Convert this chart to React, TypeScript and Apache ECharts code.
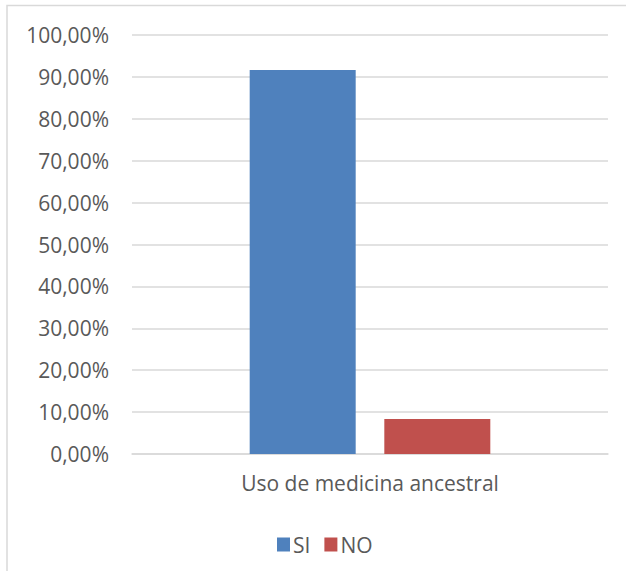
import React, { useEffect, useRef } from "react";
import * as echarts from "echarts";

const categories = ["Uso de medicina ancestral"];
const seriesNames = ["SI", "NO"];
const siValues = [91.65];
const noValues = [8.35];
const seriesColors = ["#4f81bd", "#c0504d"];

export default function App() {
  const ref = useRef<HTMLDivElement>(null);
  useEffect(() => {
    document.body.style.margin = "0";
    const chart = echarts.init(ref.current!, null, { renderer: "svg" });
    const font = "'Open Sans', 'Noto Sans', sans-serif";
    chart.setOption({
      animation: false,
      backgroundColor: "#ffffff",
      graphic: [
        {
          type: "rect",
          shape: { x: 7, y: 5.5, width: 700, height: 700 },
          style: { fill: "none", stroke: "#d9d9d9", lineWidth: 1.5 },
          silent: true,
        },
      ],
      grid: { left: 132, right: 18, top: 35, bottom: 117, containLabel: false },
      legend: {
        left: 272,
        top: 529,
        itemWidth: 13,
        itemHeight: 14,
        itemGap: 14,
        icon: "rect",
        data: seriesNames,
        textStyle: { fontFamily: font, fontSize: 21, color: "#595959", padding: [0, 0, 0, -2] },
      },
      xAxis: {
        type: "category",
        data: categories,
        axisLine: { show: true, lineStyle: { color: "#d9d9d9", width: 1.5 } },
        axisTick: { show: false },
        axisLabel: { fontFamily: font, fontSize: 21, color: "#595959", margin: 18 },
      },
      yAxis: {
        type: "value",
        min: 0,
        max: 100,
        interval: 10,
        axisLine: { show: false },
        axisTick: { show: false },
        splitLine: { lineStyle: { color: "#d9d9d9", width: 1.5 } },
        axisLabel: {
          fontFamily: font,
          fontSize: 21,
          color: "#595959",
          margin: 23,
          formatter: (v: number) => v.toFixed(2).replace(".", ",") + "%",
        },
      },
      series: [
        {
          name: seriesNames[0],
          type: "bar",
          data: siValues,
          barWidth: 106,
          barGap: "27%",
          itemStyle: { color: seriesColors[0] },
        },
        {
          name: seriesNames[1],
          type: "bar",
          data: noValues,
          barWidth: 106,
          barGap: "27%",
          itemStyle: { color: seriesColors[1] },
        },
      ],
    });
    return () => chart.dispose();
  }, []);
  return <div ref={ref} style={{ width: 626, height: 571 }} />;
}
